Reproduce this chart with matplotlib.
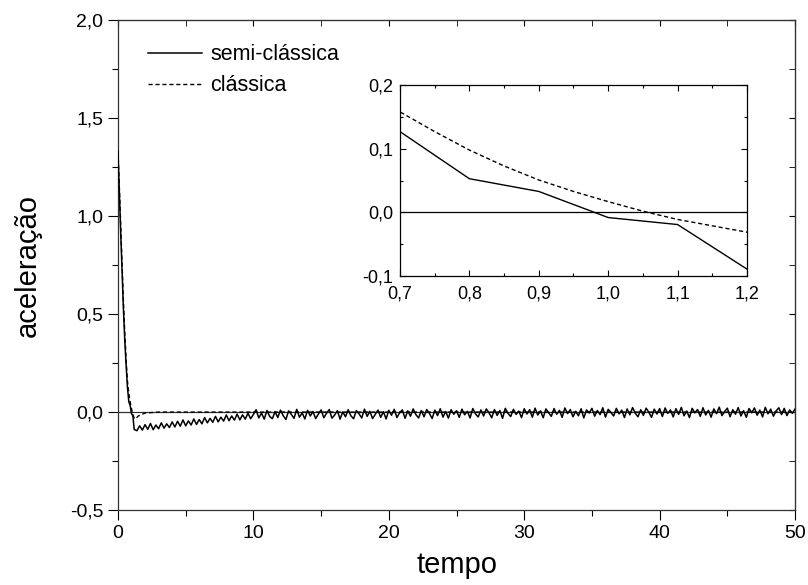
import numpy as np
import matplotlib
matplotlib.use('Agg')
import matplotlib.pyplot as plt
from matplotlib.ticker import MultipleLocator, FuncFormatter

plt.rcParams['font.family'] = ['Liberation Sans', 'DejaVu Sans']

# semi-classica: fast initial fall (step 0.1), then noisy tail (step 0.2)
t_fall = [0.0, 0.1, 0.2, 0.3, 0.4, 0.5, 0.6, 0.7, 0.8, 0.9, 1.0, 1.1, 1.2]
semi_fall = [1.33, 1.12, 0.92, 0.72, 0.53, 0.37, 0.24, 0.127, 0.053, 0.033, -0.008, -0.019, -0.089]

semi_tail = [
    -0.095, -0.070, -0.092, -0.064, -0.088, -0.058, -0.090, -0.066, -0.085, -0.055, -0.082, -0.060, -0.079, -0.050, -0.076,
    -0.047, -0.072, -0.040, -0.070, -0.045, -0.066, -0.035, -0.063, -0.038, -0.060, -0.028, -0.055, -0.032, -0.052, -0.022,
    -0.050, -0.026, -0.046, -0.015, -0.044, -0.020, -0.041, -0.010, -0.040, -0.014, -0.036, -0.006, -0.034, -0.012,
    0.012, -0.030, -0.005, -0.036, 0.008, -0.022, -0.034, 0.002, -0.028, 0.010, -0.018, -0.038, 0.006, -0.012, -0.032, 0.014, -0.026, -0.004, -0.035, 0.009, -0.020, 0.003, -0.033, -0.010, 0.011,
    -0.029, -0.006, 0.013, -0.031, -0.015, 0.007, -0.036, 0.001, -0.024, 0.012, -0.019, -0.034, 0.008, -0.009, -0.030, 0.015, -0.022, 0.004, -0.033, -0.011, 0.010, -0.027, 0.002, -0.035, 0.009,
    -0.016, 0.014, -0.028, -0.003, 0.011, -0.032, 0.006, -0.021, 0.016, -0.013, -0.030, 0.008, -0.024, 0.013, -0.007, -0.033, 0.010, -0.018, 0.017, -0.026, 0.003, -0.031, 0.012, -0.011, 0.007,
    -0.027, 0.015, -0.014, 0.004, -0.030, 0.018, -0.009, -0.025, 0.011, -0.020, 0.016, -0.004, -0.029, 0.013, -0.017, 0.008, -0.032, 0.019, -0.006, -0.023, 0.014, -0.012, 0.005, -0.028, 0.017,
    -0.010, 0.012, -0.026, 0.020, -0.015, 0.006, -0.029, 0.016, -0.003, -0.022, 0.018, -0.011, 0.009, -0.027, 0.021, -0.008, 0.013, -0.024, 0.004, -0.019, 0.017, -0.030, 0.011, -0.005, 0.019,
    -0.021, 0.008, -0.013, 0.022, -0.026, 0.014, -0.002, -0.020, 0.019, -0.009, 0.010, -0.028, 0.016, -0.014, 0.023, -0.006, -0.024, 0.012, -0.017, 0.020, -0.001, -0.027, 0.015, -0.010, 0.018,
    -0.023, 0.021, -0.007, 0.011, -0.025, 0.017, -0.012, 0.024, -0.019, 0.005, -0.028, 0.019, -0.004, 0.013, -0.022, 0.022, -0.015, 0.009, -0.026, 0.016, -0.008, 0.025, -0.018, 0.003, 0.020,
    -0.024, 0.012, -0.011, 0.023, -0.020, 0.007, -0.027, 0.018, -0.003, 0.021, -0.016, 0.010, -0.025, 0.024, -0.009, 0.015, -0.021, 0.006, 0.022, -0.013, 0.019, -0.018, 0.011, -0.006, 0.016,
]
t_tail = list(1.4 + 0.2 * np.arange(len(semi_tail)))

t_semi = t_fall + t_tail
semi = semi_fall + semi_tail

# classica: smooth curve
t_class = [0.0, 0.1, 0.2, 0.3, 0.4, 0.5, 0.6, 0.7, 0.75, 0.8, 0.85, 0.9, 0.95, 1.0, 1.05, 1.1, 1.15, 1.2,
           1.3, 1.5, 2.0, 3.0, 50.0]
classica = [1.33, 1.15, 0.96, 0.76, 0.57, 0.41, 0.27, 0.158, 0.127, 0.098, 0.073, 0.051, 0.033, 0.017, 0.002, -0.011, -0.021, -0.031,
            -0.035, -0.020, -0.005, 0.0, 0.0]

comma = FuncFormatter(lambda v, p: ('%.1f' % v).replace('.', ','))
intfmt = FuncFormatter(lambda v, p: '%d' % v)

fig = plt.figure(figsize=(8.08, 5.85), dpi=100)
ax = fig.add_axes([0.146, 0.128, 0.838, 0.838])

ax.axhline(0, color='#333333', lw=0.9, zorder=1)
ax.plot(t_class, classica, color='black', lw=1.0, ls=(0, (3, 2)), label='clássica', zorder=2)
ax.plot(t_semi, semi, color='black', lw=1.1, label='semi-clássica', zorder=3)

ax.set_xlim(0, 50)
ax.set_ylim(-0.5, 2.0)
ax.xaxis.set_major_locator(MultipleLocator(10))
ax.xaxis.set_minor_locator(MultipleLocator(5))
ax.yaxis.set_major_locator(MultipleLocator(0.5))
ax.yaxis.set_minor_locator(MultipleLocator(0.25))
ax.xaxis.set_major_formatter(intfmt)
ax.yaxis.set_major_formatter(comma)
ax.tick_params(which='major', direction='out', length=7, width=0.8, labelsize=14)
ax.tick_params(which='minor', direction='out', length=4, width=0.8)
for s in ax.spines.values():
    s.set_linewidth(0.9)
    s.set_color('#333333')

top = ax.secondary_xaxis('top')
top.xaxis.set_major_locator(MultipleLocator(10))
top.xaxis.set_minor_locator(MultipleLocator(5))
top.tick_params(which='both', direction='in', length=4, labeltop=False)
right = ax.secondary_yaxis('right')
right.yaxis.set_major_locator(MultipleLocator(0.5))
right.yaxis.set_minor_locator(MultipleLocator(0.25))
right.tick_params(which='both', direction='in', length=4, labelright=False)

ax.set_xlabel('tempo', fontsize=21, labelpad=7)
ax.set_ylabel('aceleração', fontsize=21, labelpad=20)

h, l = ax.get_legend_handles_labels()
ax.legend([h[1], h[0]], [l[1], l[0]], loc='upper left', bbox_to_anchor=(0.044, 0.95),
          frameon=False, fontsize=15.5, handlelength=2.5, handletextpad=0.4,
          labelspacing=0.45, borderpad=0, borderaxespad=0)

# inset
ins = fig.add_axes([0.495, 0.528, 0.4295, 0.3265])
ins.axhline(0, color='black', lw=0.9, zorder=1)
ins.plot(t_class, classica, color='black', lw=1.0, ls=(0, (3, 2)))
ins.plot(t_semi, semi, color='black', lw=1.0)
ins.set_xlim(0.7, 1.2)
ins.set_ylim(-0.1, 0.2)
ins.xaxis.set_major_locator(MultipleLocator(0.1))
ins.xaxis.set_minor_locator(MultipleLocator(0.05))
ins.yaxis.set_major_locator(MultipleLocator(0.1))
ins.yaxis.set_minor_locator(MultipleLocator(0.05))
ins.xaxis.set_major_formatter(comma)
ins.yaxis.set_major_formatter(comma)
ins.tick_params(which='major', direction='in', length=4, width=0.8, labelsize=13,
                top=True, right=True)
ins.tick_params(which='minor', direction='in', length=2.5, width=0.8, top=True, right=True)
ins.tick_params(axis='x', pad=7)
ins.tick_params(axis='y', pad=5)
for s in ins.spines.values():
    s.set_linewidth(0.9)

fig.savefig('out.png', dpi=100)
